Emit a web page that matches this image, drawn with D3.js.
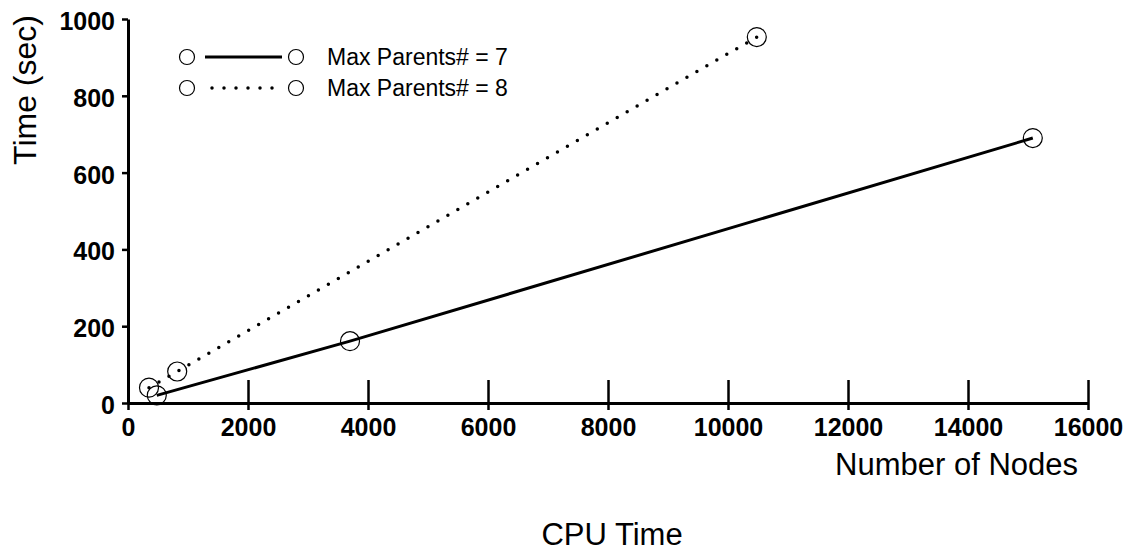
<!DOCTYPE html>
<html>
<head>
<meta charset="utf-8">
<script src="https://cdn.jsdelivr.net/npm/d3@7"></script>
<style>
  body { margin: 0; background: #fff; }
  svg { display: block; font-family: 'Liberation Sans', Arial, sans-serif; }
</style>
</head>
<body>
<svg id="chart" width="1142" height="553"></svg>
<script>
// Data
const seriesNames = ['Max Parents# = 7', 'Max Parents# = 8']
const nodes7 = [480, 3700, 15080]
const time7 = [20, 161, 690]
const nodes8 = [350, 820, 10480]
const time8 = [40, 82, 953]
const xTicks = [0, 2000, 4000, 6000, 8000, 10000, 12000, 14000, 16000]
const yTicks = [0, 200, 400, 600, 800, 1000]

const font = "'Liberation Sans', Arial, sans-serif"
const svg = d3.select('#chart')

// Plot area
const x = d3.scaleLinear().domain([0, 16000]).range([128, 1088])
const y = d3.scaleLinear().domain([0, 1000]).range([403, 19])

// X axis: ticks cross the axis line
let gx = svg.append('g')
  .attr('transform', 'translate(0,' + y(0) + ')')
  .call(d3.axisBottom(x).tickValues(xTicks).tickFormat(d3.format('d'))
    .tickSize(7).tickSizeOuter(0))
gx.attr('font-family', font)
gx.select('.domain').attr('stroke-width', 3)
gx.selectAll('.tick line').attr('y1', -23).attr('y2', 7).attr('stroke-width', 2.5)
gx.selectAll('.tick text')
  .attr('y', 15)
  .style('font-size', '25px')
  .style('font-weight', 'bold')
  .attr('fill', '#000')

// Y axis: outside ticks only
let gy = svg.append('g')
  .attr('transform', 'translate(' + x(0) + ',0)')
  .call(d3.axisLeft(y).tickValues(yTicks).tickFormat(d3.format('d'))
    .tickSize(6).tickSizeOuter(0))
gy.attr('font-family', font)
gy.select('.domain').attr('stroke-width', 3)
gy.selectAll('.tick line').attr('stroke-width', 2.5)
gy.selectAll('.tick text')
  .attr('x', -13)
  .attr('dy', '0.42em')
  .style('font-size', '25px')
  .style('font-weight', 'bold')
  .attr('fill', '#000')

// Axis titles
svg.append('text')
  .attr('transform', 'translate(36,90) rotate(-90)')
  .attr('text-anchor', 'middle')
  .style('font-size', '32px')
  .text('Time (sec)')

svg.append('text')
  .attr('x', 1078)
  .attr('y', 475)
  .attr('text-anchor', 'end')
  .style('font-size', '31px')
  .text('Number of Nodes')

svg.append('text')
  .attr('x', 612)
  .attr('y', 545)
  .attr('text-anchor', 'middle')
  .style('font-size', '31px')
  .text('CPU Time')

// Series
const series = [
  { xs: nodes7, ys: time7, dash: null, width: 3 },
  { xs: nodes8, ys: time8, dash: '0 11.5', width: 3.5 }
]

let line = d3.line().x(d => x(d[0])).y(d => y(d[1]))

series.forEach(s => {
  let pts = s.xs.map((v, i) => [v, s.ys[i]])
  svg.append('path')
    .datum(pts)
    .attr('d', line)
    .attr('fill', 'none')
    .attr('stroke', '#000')
    .attr('stroke-width', s.width)
    .attr('stroke-linecap', s.dash ? 'round' : 'butt')
    .attr('stroke-dasharray', s.dash)

  svg.selectAll(null)
    .data(pts)
    .enter().append('circle')
    .attr('cx', d => x(d[0]))
    .attr('cy', d => y(d[1]))
    .attr('r', 9.5)
    .attr('fill', 'none')
    .attr('stroke', '#000')
    .attr('stroke-width', 1.2)
})

// Legend
let legend = svg.append('g')
let rowY = [57, 88]
series.forEach((s, i) => {
  let g = legend.append('g').attr('transform', 'translate(0,' + rowY[i] + ')')
  g.append('circle').attr('cx', 187).attr('cy', 0).attr('r', 7.5)
    .attr('fill', 'none').attr('stroke', '#000').attr('stroke-width', 1.2)
  g.append('circle').attr('cx', 296).attr('cy', 0).attr('r', 7.5)
    .attr('fill', 'none').attr('stroke', '#000').attr('stroke-width', 1.2)
  g.append('line')
    .attr('x1', s.dash ? 212 : 205).attr('x2', s.dash ? 284 : 282)
    .attr('stroke', '#000')
    .attr('stroke-width', s.width)
    .attr('stroke-linecap', s.dash ? 'round' : 'butt')
    .attr('stroke-dasharray', s.dash ? '0 12' : null)
  g.append('text')
    .attr('x', 327)
    .attr('y', 8)
    .style('font-size', '23px')
    .text(seriesNames[i])
})
</script>
</body>
</html>
